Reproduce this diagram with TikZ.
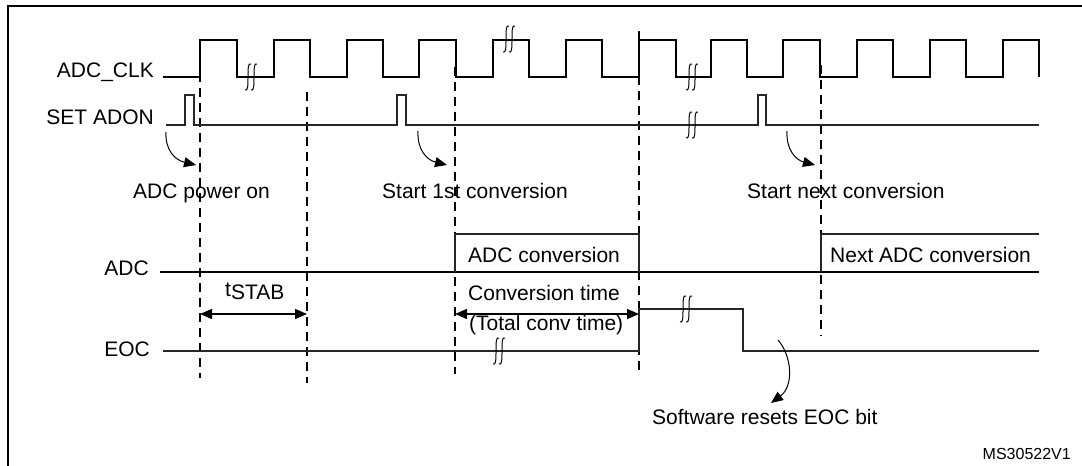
\documentclass[tikz,border=0pt]{standalone}
\usepackage{fontspec}
\setmainfont{Liberation Sans}
\usetikzlibrary{arrows.meta}
\tikzset{
  lbl/.style={inner sep=0pt,font=\fontsize{21}{24}\selectfont},
  sig/.style={line width=2pt,line join=miter},
  thin sig/.style={line width=1.2pt,draw=black!85},
  guide/.style={line width=2pt,dash pattern=on 9pt off 6pt},
  curv/.style={line width=1pt,-{Triangle[length=12pt,width=10pt]}},
  dim/.style={line width=1.5pt,{Triangle[length=12pt,width=10pt]}-{Triangle[length=12pt,width=10pt]}},
  brk/.style={line width=1pt},
}
\newcommand{\brkmark}[2]{%
  \draw[brk] (#1-6,#2+13) .. controls (#1,#2+17) and (#1-6,#2-17) .. (#1,#2-13);
  \draw[brk] (#1,#2+13) .. controls (#1+6,#2+17) and (#1,#2-17) .. (#1+6,#2-13);}
\begin{document}
\begin{tikzpicture}[x=1pt,y=-1pt]
\useasboundingbox (0,0) rectangle (1082,466);
% frame
\draw[line width=2pt] (8,470) -- (8,5.5) -- (1090,5.5);

% labels
\node[lbl,anchor=base east] (lclk) at (154,77) {ADC\_CLK};
\node[lbl,anchor=base east] (ladon) at (154,124) {SET ADON};
\node[lbl,anchor=base east] (ladc) at (149,275) {ADC};
\node[lbl,anchor=base east] (leoc) at (150,356) {EOC};

% dashed guides
\draw[guide] (200,58) coordinate (g1t) -- (200,378) coordinate (g1b);
\draw[guide] (307,92) coordinate (g2t) -- (307,383) coordinate (g2b);
\draw[guide] (455,67) coordinate (g3t) -- (455,374) coordinate (g3b);
\draw[guide] (639,31) coordinate (g4t) -- (639,375) coordinate (g4b);
\draw[guide] (821,65) coordinate (g5t) -- (821,336) coordinate (g5b);

% ADC_CLK
\draw[sig] (163,77) \foreach \r/\f in {200/237,274/310,347/383,419/456,493/529,566/602,639/676,711/747,783/820,857/893,930/966,1003/1039} { -- (\r,77) -- (\r,40) -- (\f,40) -- (\f,77) };
\brkmark{251}{77}
\brkmark{509}{39}
\brkmark{692}{77}

% SET ADON
\draw[thin sig] (166,125) -- (185,125) -- (185,95) -- (194,95) -- (194,125)
  -- (397,125) -- (397,95) -- (406,95) -- (406,125)
  -- (758,125) -- (758,95) -- (766,95) -- (766,125) -- (1039,125);
\brkmark{692}{125}

% ADC
\draw[sig] (160,272) -- (1039,272);
\draw[thin sig] (455,272) -- (455,234) -- (639,234) -- (639,272);
\draw[thin sig] (821,272) -- (821,234) -- (1039,234);
\node[lbl,anchor=base west] (conv1) at (468,262) {ADC conversion};
\node[lbl,anchor=base west] (conv2) at (830,262) {Next ADC conversion};

% EOC
\draw[thin sig] (163,351) -- (639,351) -- (639,309) -- (743,309) -- (743,351) -- (1039,351);
\brkmark{499}{351}
\brkmark{686}{309}

% event labels
\node[lbl,anchor=base west] (pwr) at (133,198) {ADC power on};
\node[lbl,anchor=base west] (st1) at (382,198) {Start 1st conversion};
\node[lbl,anchor=base west] (stn) at (747,198) {Start next conversion};
\node[lbl,anchor=base west] (sw) at (652,424) {Software resets EOC bit};
\node[inner sep=0pt,anchor=base east,font=\fontsize{16}{18}\selectfont] (ms) at (1071,459) {MS30522V1};

% curved arrows
\draw[curv] (166,132) .. controls (165,150) and (175,160) .. (196,165);
\draw[curv] (418,131) .. controls (417,150) and (427,160) .. (447,165);
\draw[curv] (787,131) .. controls (786,150) and (796,160) .. (815,165);
\draw[curv] (778,340) .. controls (792,356) and (794,386) .. (771,403);

% dimensions
\draw[dim] (200,314) coordinate (ts1) -- (307,314) coordinate (ts2);
\node[lbl,anchor=base west] (tstab) at (225,296) {t\raisebox{-0.35ex}{STAB}};
\draw[dim] (455,314) coordinate (ct1) -- (639,314) coordinate (ct2);
\node[lbl,anchor=base west] (ctime) at (468,300) {Conversion time};
\node[lbl,anchor=base west] (ttime) at (469,330) {(Total conv time)};
\end{tikzpicture}
\end{document}
